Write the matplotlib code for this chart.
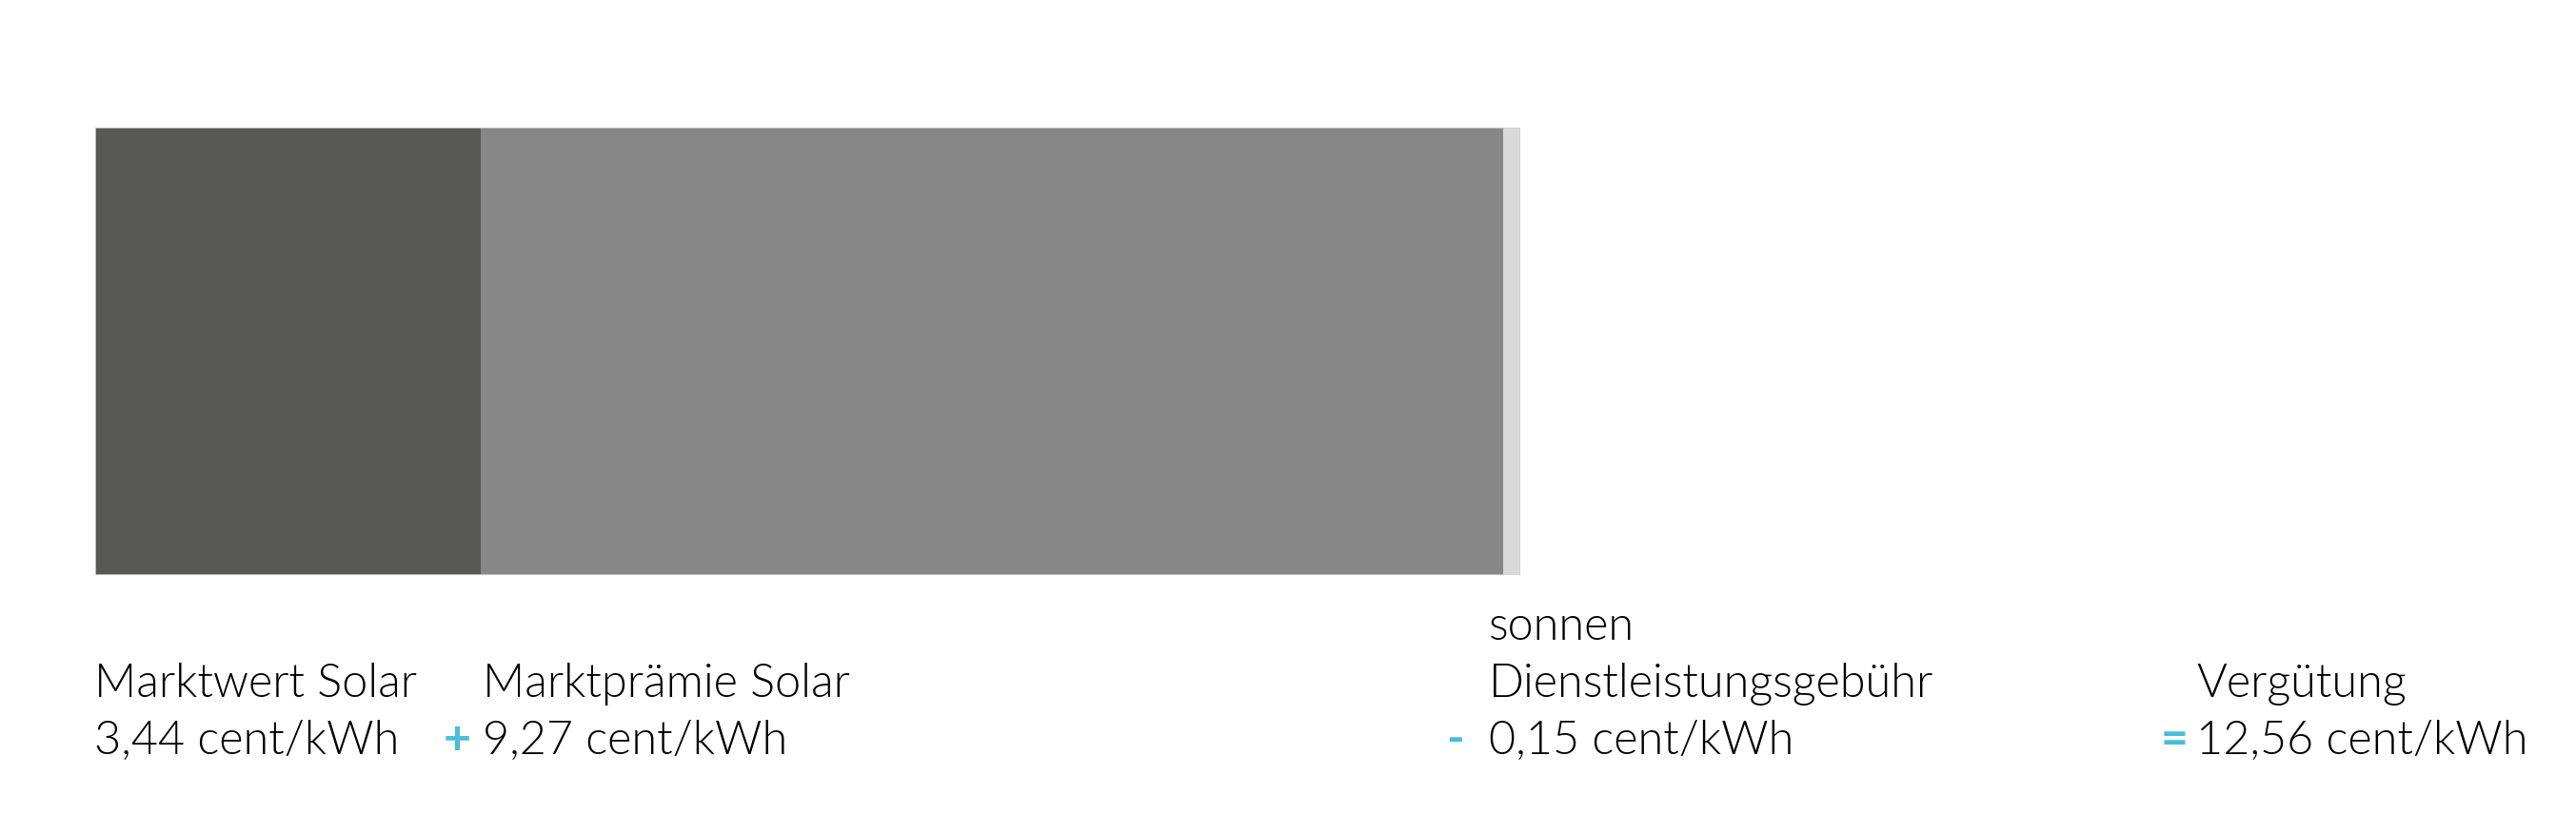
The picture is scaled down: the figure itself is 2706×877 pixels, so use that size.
import matplotlib
matplotlib.use("Agg")
import matplotlib.pyplot as plt

# Values (cent/kWh)
marktwert = 3.44
marktpraemie = 9.27
gebuehr = 0.15
verguetung = 12.56

labels = ["Marktwert Solar", "Marktprämie Solar", "sonnen\nDienstleistungsgebühr", "Vergütung"]
value_texts = ["3,44 cent/kWh", "9,27 cent/kWh", "0,15 cent/kWh", "12,56 cent/kWh"]
operators = ["", "+", "-", "="]

W, H = 2706, 877
fig = plt.figure(figsize=(W / 100, H / 100), dpi=100)
fig.patch.set_facecolor("white")

# bar axes: 100..1597 px horizontally, 134..604 px vertically
total = marktwert + marktpraemie
ax = fig.add_axes([100 / W, (H - 604) / H, 1497 / W, 470 / H])
ax.set_xlim(0, total)
ax.set_ylim(-0.5, 0.5)
ax.axis("off")

ax.barh(0, marktwert, left=0, height=1, color="#585856", linewidth=0)
ax.barh(0, verguetung - marktwert, left=marktwert, height=1, color="#878787", linewidth=0)
ax.barh(0, gebuehr, left=verguetung, height=1, color="#d9d9d9", linewidth=0)
# thin light outline
ax.barh(0, total, left=0, height=1, fill=False, edgecolor="#cfcfcf", linewidth=1.2)

font = dict(family=["Lato", "DejaVu Sans"], fontweight=300, fontsize=35, color="#000000")
cyan = "#48bed8"


def px(x, y):
    return x / W, (H - y) / H


# label columns (left x, baselines)
cols = [99, 507, 1564, 2307]
for i, (x, lab, val) in enumerate(zip(cols, labels, value_texts)):
    lines = lab.split("\n")
    base = 732 - 60 * (len(lines) - 1)
    for j, line in enumerate(lines):
        fig.text(*px(x, base + 60 * j), line, ha="left", va="baseline", **font)
    fig.text(*px(x, 792), val, ha="left", va="baseline", **font)

# operators
op_x = [None, 480, 1529, 2284]
for op, x in zip(operators, op_x):
    if not op:
        continue
    fig.text(*px(x, 792), op, ha="center", va="baseline", family=["Lato", "DejaVu Sans"],
             fontweight="bold", fontsize=36, color=cyan)

fig.savefig("out.png", dpi=100, facecolor="white")
